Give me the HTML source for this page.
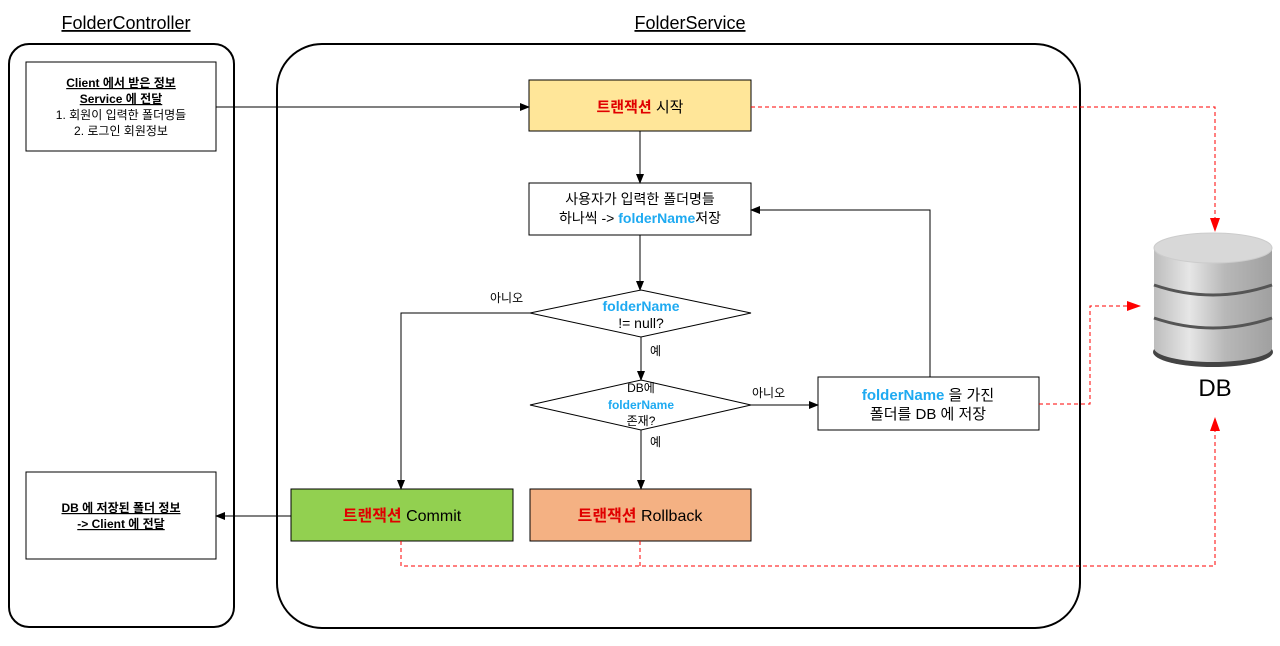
<!DOCTYPE html>
<html><head><meta charset="utf-8"><style>
body{margin:0;background:#fff}
text{font-family:"Liberation Sans","Noto Sans CJK KR",sans-serif}
</style></head><body>
<svg width="1280" height="641" viewBox="0 0 1280 641" xmlns="http://www.w3.org/2000/svg">
<defs>
<marker id="a" markerWidth="10" markerHeight="10" refX="9" refY="5" orient="auto" markerUnits="userSpaceOnUse"><path d="M0,1 L10,5 L0,9 Z" fill="#000"/></marker>
<marker id="r" markerWidth="14" markerHeight="12" refX="13" refY="6" orient="auto" markerUnits="userSpaceOnUse"><path d="M0,1 L14,6 L0,11 Z" fill="#f00"/></marker>
<linearGradient id="g" x1="0" x2="1"><stop offset="0" stop-color="#bdbdbd"/><stop offset="0.3" stop-color="#e6e6e6"/><stop offset="0.6" stop-color="#b8b8b8"/><stop offset="1" stop-color="#a0a0a0"/></linearGradient>
</defs>
<text x="126" y="29" font-size="18" text-anchor="middle" text-decoration="underline">FolderController</text>
<text x="690" y="29" font-size="18" text-anchor="middle" text-decoration="underline">FolderService</text>
<rect x="9" y="44" width="225" height="583" rx="20" fill="none" stroke="#000" stroke-width="2"/>
<rect x="277" y="44" width="803" height="584" rx="45" fill="none" stroke="#000" stroke-width="2"/>

<rect x="26" y="62" width="190" height="89" fill="#fff" stroke="#000"/>
<g font-size="12" text-anchor="middle">
<text x="121" y="87" font-weight="bold" text-decoration="underline">Client 에서 받은 정보</text>
<text x="121" y="103" font-weight="bold" text-decoration="underline">Service 에 전달</text>
<text x="121" y="119">1. 회원이 입력한 폴더명들</text>
<text x="121" y="135">2. 로그인 회원정보</text>
</g>
<rect x="26" y="472" width="190" height="87" fill="#fff" stroke="#000"/>
<g font-size="12" text-anchor="middle" font-weight="bold" text-decoration="underline">
<text x="121" y="512">DB 에 저장된 폴더 정보</text>
<text x="121" y="528">-&gt; Client 에 전달</text>
</g>

<rect x="529" y="80" width="222" height="51" fill="#ffe699" stroke="#000"/>
<text x="640" y="112" font-size="15" text-anchor="middle"><tspan fill="#e00000" font-weight="bold">트랜잭션</tspan> 시작</text>

<rect x="529" y="183" width="222" height="52" fill="#fff" stroke="#000"/>
<text x="640" y="204" font-size="14" text-anchor="middle">사용자가 입력한 폴더명들</text>
<text x="640" y="223" font-size="14" text-anchor="middle">하나씩 -&gt; <tspan fill="#1eaaf1" font-weight="bold">folderName</tspan>저장</text>

<polygon points="530,313 641,290 751,313 641,337" fill="#fff" stroke="#000"/>
<text x="641" y="311" font-size="14" text-anchor="middle" fill="#1eaaf1" font-weight="bold">folderName</text>
<text x="641" y="328" font-size="14" text-anchor="middle">!= null?</text>

<polygon points="530,405 641,380 751,405 641,430" fill="#fff" stroke="#000"/>
<text x="641" y="392" font-size="12" text-anchor="middle">DB에</text>
<text x="641" y="409" font-size="12" text-anchor="middle" fill="#1eaaf1" font-weight="bold">folderName</text>
<text x="641" y="425" font-size="12" text-anchor="middle">존재?</text>

<rect x="818" y="377" width="221" height="53" fill="#fff" stroke="#000"/>
<text x="928" y="400" font-size="15" text-anchor="middle"><tspan fill="#1eaaf1" font-weight="bold">folderName</tspan> 을 가진</text>
<text x="928" y="419" font-size="15" text-anchor="middle">폴더를 DB 에 저장</text>

<rect x="291" y="489" width="222" height="52" fill="#92d050" stroke="#000"/>
<text x="402" y="521" font-size="16" text-anchor="middle"><tspan fill="#e00000" font-weight="bold">트랜잭션</tspan> Commit</text>
<rect x="530" y="489" width="221" height="52" fill="#f4b183" stroke="#000"/>
<text x="640" y="521" font-size="16" text-anchor="middle"><tspan fill="#e00000" font-weight="bold">트랜잭션</tspan> Rollback</text>

<g stroke="#000" fill="none" marker-end="url(#a)">
<path d="M216,107 H529"/>
<path d="M640,131 V183"/>
<path d="M640,235 V290"/>
<path d="M530,313 H401 V489"/>
<path d="M641,337 V380"/>
<path d="M751,405 H818"/>
<path d="M641,430 V489"/>
<path d="M930,377 V210 H751"/>
<path d="M291,516 H216"/>
</g>
<g font-size="12">
<text x="490" y="302">아니오</text>
<text x="650" y="355">예</text>
<text x="752" y="397">아니오</text>
<text x="650" y="446">예</text>
</g>

<g stroke="#f00" fill="none" stroke-dasharray="4,3">
<path d="M751,107 H1215 V231" marker-end="url(#r)"/>
<path d="M1039,404 H1090 V306 H1140" marker-end="url(#r)"/>
<path d="M401,541 V566 H1215 V418" marker-end="url(#r)"/>
<path d="M640,541 V566"/>
</g>

<ellipse cx="1213" cy="352" rx="60" ry="15" fill="#444"/>
<rect x="1154" y="248" width="118" height="100" fill="url(#g)"/>
<ellipse cx="1213" cy="348" rx="59" ry="14" fill="url(#g)"/>
<path d="M1154,285 Q1213,305 1272,285" stroke="#555" stroke-width="3" fill="none"/>
<path d="M1154,318 Q1213,338 1272,318" stroke="#555" stroke-width="3" fill="none"/>
<ellipse cx="1213" cy="248" rx="59" ry="15" fill="#d8d8d8" stroke="#ccc"/>
<text x="1215" y="396" font-size="24" text-anchor="middle">DB</text>
</svg>
</body></html>
